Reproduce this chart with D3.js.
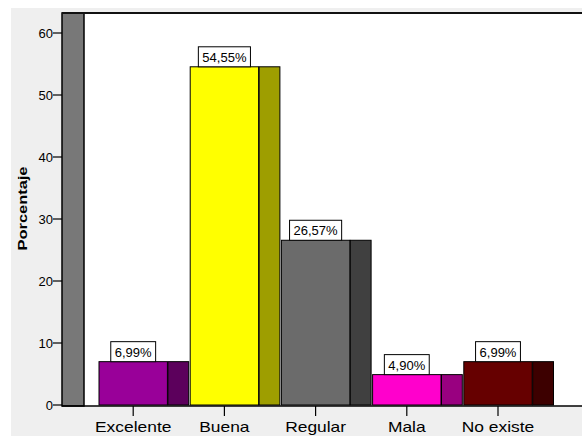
<!DOCTYPE html>
<html>
<head>
<meta charset="utf-8">
<script src="https://cdn.jsdelivr.net/npm/d3@7/dist/d3.min.js"></script>
<style>
  html, body { margin: 0; padding: 0; background: #ffffff; overflow: hidden; }
  svg { display: block; }
  text { font-family: Arial, "Liberation Sans", sans-serif; fill: #000; }
</style>
</head>
<body>
<svg id="chart" width="582" height="436"></svg>
<script>
// Valoración y porcentaje de respuestas
const categories = ["Excelente", "Buena", "Regular", "Mala", "No existe"];
const values = [6.99, 54.55, 26.57, 4.90, 6.99];
const valueLabels = ["6,99%", "54,55%", "26,57%", "4,90%", "6,99%"];
const yTicks = [0, 10, 20, 30, 40, 50, 60];
const frontColors = ["#990099", "#ffff00", "#6b6b6b", "#ff00cc", "#660000"];
const sideColors = ["#5c005c", "#9e9e00", "#404040", "#990080", "#3d0000"];

const W = 582, H = 436;
const svg = d3.select("#chart");

// panel background
svg.append("rect").attr("x", 11).attr("y", 8).attr("width", W - 11).attr("height", H - 8)
  .attr("fill", "#efefef");

const plotLeft = 62, wallRight = 84, plotTop = 13, plotBottom = 406;

// white plot area
svg.append("rect").attr("x", wallRight).attr("y", plotTop)
  .attr("width", W - wallRight).attr("height", plotBottom - plotTop).attr("fill", "#ffffff");

// scales
const y = d3.scaleLinear().domain([0, 60]).range([405, 33]);
const x = d3.scaleBand().domain(categories).range([99, 555]).padding(0);
const bw = x.bandwidth();
const frontW = bw * 0.75;

// left side wall
svg.append("rect").attr("x", plotLeft).attr("y", plotTop)
  .attr("width", wallRight - plotLeft).attr("height", plotBottom - plotTop)
  .attr("fill", "#787878").attr("stroke", "#000").attr("stroke-width", 1.5);

// top frame line
svg.append("line").attr("x1", plotLeft).attr("x2", W).attr("y1", plotTop).attr("y2", plotTop)
  .attr("stroke", "#111").attr("stroke-width", 2);

// bars: front face and shaded side face
const bars = svg.append("g").selectAll("g").data(categories).join("g");
bars.append("rect")
  .attr("x", (d, i) => x(d) + frontW + 0.5)
  .attr("y", (d, i) => y(values[i]))
  .attr("width", bw - frontW - 2)
  .attr("height", (d, i) => y(0) - y(values[i]))
  .attr("fill", (d, i) => sideColors[i])
  .attr("stroke", "#000").attr("stroke-width", 1);
bars.append("rect")
  .attr("x", d => x(d))
  .attr("y", (d, i) => y(values[i]))
  .attr("width", frontW)
  .attr("height", (d, i) => y(0) - y(values[i]))
  .attr("fill", (d, i) => frontColors[i])
  .attr("stroke", "#000").attr("stroke-width", 1);

// value labels in boxes
bars.each(function (d, i) {
  const g = d3.select(this);
  const cx = x(d) + frontW / 2;
  const top = y(values[i]);
  const t = g.append("text").attr("x", cx).attr("y", top - 5)
    .attr("text-anchor", "middle").attr("font-size", 13).text(valueLabels[i]);
  const tw = t.node().getComputedTextLength();
  g.insert("rect", "text")
    .attr("x", cx - tw / 2 - 4).attr("y", top - 20)
    .attr("width", tw + 8).attr("height", 20)
    .attr("fill", "#fff").attr("stroke", "#000").attr("stroke-width", 1);
});

// x axis baseline
svg.append("line").attr("x1", plotLeft).attr("x2", W).attr("y1", plotBottom).attr("y2", plotBottom)
  .attr("stroke", "#000").attr("stroke-width", 1.5);

// x ticks and labels (wide face)
const xAxis = svg.append("g");
categories.forEach((c, i) => {
  const cx = x(c) + frontW / 2;
  xAxis.append("line").attr("x1", cx).attr("x2", cx).attr("y1", plotBottom).attr("y2", plotBottom + 10)
    .attr("stroke", "#000").attr("stroke-width", 1.2);
  xAxis.append("text").attr("transform", `translate(${cx},432) scale(1.16,1)`)
    .attr("text-anchor", "middle").attr("font-size", 15).text(c);
});

// y axis ticks
const yAxis = svg.append("g");
yTicks.forEach(v => {
  yAxis.append("line").attr("x1", 53).attr("x2", plotLeft).attr("y1", y(v)).attr("y2", y(v))
    .attr("stroke", "#000").attr("stroke-width", 1.2);
  yAxis.append("text").attr("x", 53).attr("y", y(v) + 5).attr("text-anchor", "end")
    .attr("font-size", 13).text(v);
});

// y axis title
svg.append("text")
  .attr("transform", "translate(26.5,208.5) rotate(-90)")
  .attr("text-anchor", "middle").attr("font-size", 13).attr("font-weight", "bold")
  .attr("textLength", 84).attr("lengthAdjust", "spacingAndGlyphs")
  .text("Porcentaje");
</script>
</body>
</html>
